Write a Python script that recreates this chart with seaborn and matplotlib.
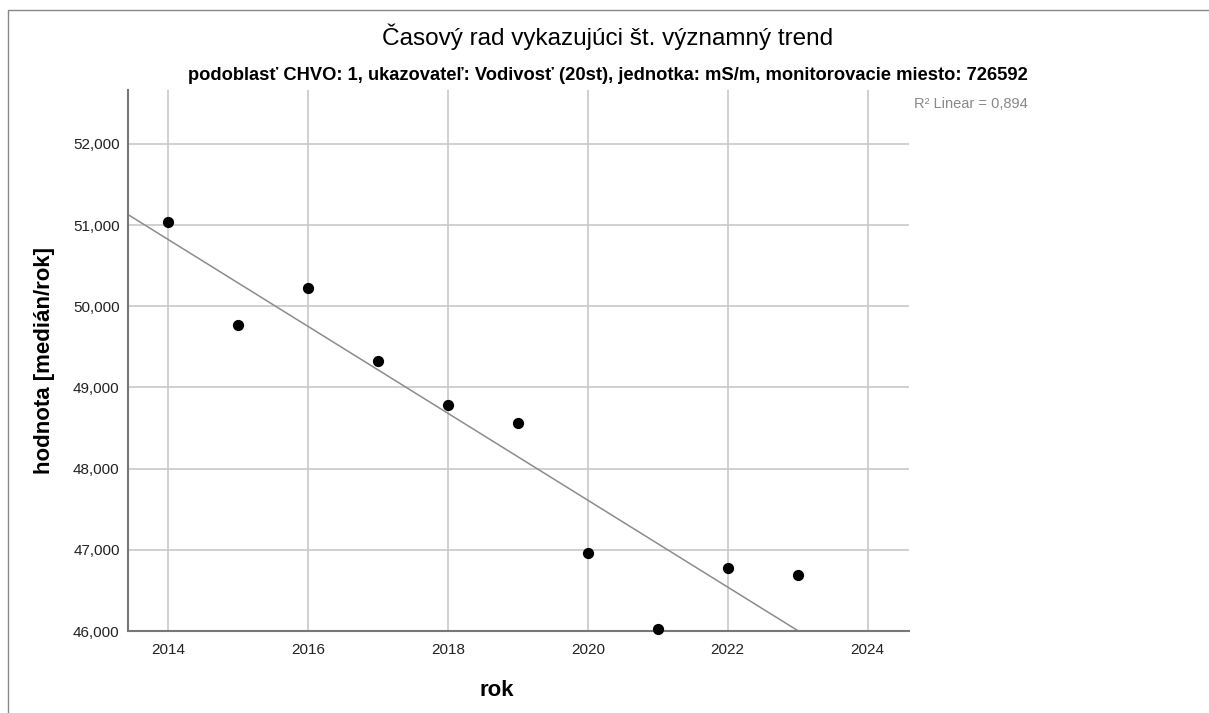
import numpy as np
import pandas as pd
import matplotlib
matplotlib.use("Agg")
import matplotlib.pyplot as plt
import seaborn as sns
from matplotlib.patches import Rectangle

# Yearly medians
years = [2014, 2015, 2016, 2017, 2018, 2019, 2020, 2021, 2022, 2023]
values = [51037, 49768, 50224, 49325, 48783, 48562, 46961, 46020, 46780, 46690]

x_ticks = [2014, 2016, 2018, 2020, 2022, 2024]
y_ticks = [46000, 47000, 48000, 49000, 50000, 51000, 52000]

title = "Časový rad vykazujúci št. významný trend"
subtitle = "podoblasť CHVO: 1, ukazovateľ: Vodivosť (20st), jednotka: mS/m, monitorovacie miesto: 726592"
r2_label = "R² Linear = 0,894"

df = pd.DataFrame({"rok": years, "hodnota": values})

sns.set_style("white")
plt.rcParams['font.family'] = ['Liberation Sans', 'DejaVu Sans']

fig = plt.figure(figsize=(12.09, 7.13), dpi=100)
ax = fig.add_axes([128 / 1209, 1 - 631 / 713, (909 - 128) / 1209, (631 - 90) / 713])

ax.set_xlim(2013.43, 2024.59)
ax.set_ylim(46000, 52665)

ax.set_xticks(x_ticks)
ax.set_yticks(y_ticks)
ax.set_yticklabels([f"{v:,}" for v in y_ticks])
ax.grid(True, color="#c8c8c8", linewidth=1.2)
ax.set_axisbelow(True)

sns.regplot(data=df, x="rok", y="hodnota", ci=None, truncate=False, ax=ax,
            scatter_kws=dict(s=50, color="black", edgecolor="black", alpha=1, zorder=3, clip_on=False),
            line_kws=dict(color="#8c8c8c", linewidth=1.1, zorder=2))

ax.set_xlabel("")
ax.set_ylabel("")
ax.tick_params(axis="both", length=0, labelsize=11, colors="#222222")
ax.tick_params(axis="y", pad=6)
ax.tick_params(axis="x", pad=9)
for s in ["top", "right"]:
    ax.spines[s].set_visible(False)
for s in ["left", "bottom"]:
    ax.spines[s].set_color("#777777")
    ax.spines[s].set_linewidth(1.5)

fig.text(608 / 1209, 1 - 37 / 713, title, ha="center", va="center", fontsize=17.5, color="black")
fig.text(608 / 1209, 1 - 75 / 713, subtitle, ha="center", va="center", fontsize=13.2,
         fontweight="bold", color="black")
fig.text(914 / 1209, 1 - 104 / 713, r2_label, ha="left", va="center", fontsize=10.5, color="#888888")
fig.text(45 / 1209, 1 - 361 / 713, "hodnota [medián/rok]", ha="center", va="center",
         rotation=90, fontsize=16, fontweight="bold", color="black")
fig.text(497 / 1209, 1 - 690 / 713, "rok", ha="center", va="center", fontsize=16,
         fontweight="bold", color="black")

# outer frame of the exported chart
fig.patches.append(Rectangle((8 / 1209, -0.1), 1.2, 1 - 10 / 713 + 0.1, transform=fig.transFigure,
                             fill=False, edgecolor="#888888", linewidth=1))

fig.savefig("out.png", dpi=100)
